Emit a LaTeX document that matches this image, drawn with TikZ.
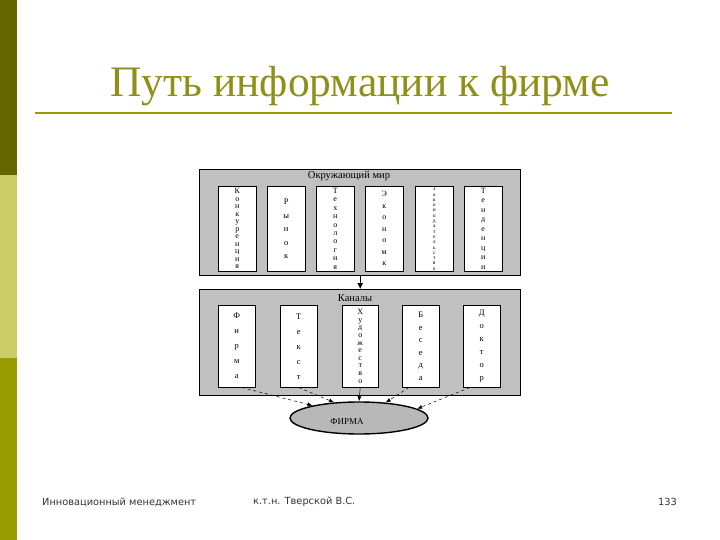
\documentclass[tikz,border=0pt]{standalone}
\usepackage{fontspec}
\setmainfont{Liberation Serif}
\newfontfamily\footfont{DejaVu Sans}
\usetikzlibrary{arrows.meta,shapes.geometric}
\definecolor{barA}{HTML}{666600}
\definecolor{barB}{HTML}{CCCC66}
\definecolor{barC}{HTML}{999900}
\definecolor{titlecol}{HTML}{8F8F1A}
\definecolor{panelgray}{HTML}{C0C0C0}
\definecolor{ellgray}{HTML}{B8B8B8}
\definecolor{foot}{HTML}{333333}
\begin{document}
\begin{tikzpicture}[x=1pt,y=-1pt,
  panel/.style={draw=black, line width=1.4pt, fill=panelgray, inner sep=0pt, anchor=north west},
  colbox/.style={draw=black, line width=0.5pt, fill=white, inner sep=0pt, anchor=north west, align=center},
  ptitle/.style={font=\fontsize{10.5}{11}\selectfont, inner sep=0pt},
  flow/.style={dashed, line width=0.5pt, -{Latex[length=5pt,width=4pt]}},
  footer/.style={font=\footfont\fontsize{9.8}{11}\selectfont, text=foot, inner sep=0pt}]
\fill[white] (0,0) rectangle (720,540);
\useasboundingbox (0,0) rectangle (720,540);
% left bar
\fill[barA] (0,0) rectangle (17,175);
\fill[barB] (0,175) rectangle (17,358);
\fill[barC] (0,358) rectangle (17,540);
% title
\node[text=titlecol, font=\fontsize{43.5}{46}\selectfont, inner sep=0pt] (title) at (360,86) {Путь информации к фирме};
\draw[barC, line width=2.5pt] (35,113) -- (672,113);
% panel 1
\node[panel, minimum width=321pt, minimum height=106pt] (p1) at (199,169) {};
\node[ptitle] (t1) at (349,176) {Окружающий мир};
\node[colbox, minimum width=38pt, minimum height=85pt, font=\fontsize{8}{7.5}\selectfont] (a1) at (218,186) {К\\о\\н\\к\\у\\р\\е\\н\\ц\\и\\я};
\node[colbox, minimum width=38pt, minimum height=85pt, font=\fontsize{8.5}{13.5}\selectfont] (a2) at (267,186) {Р\\ы\\н\\о\\к};
\node[colbox, minimum width=38pt, minimum height=85pt, font=\fontsize{8}{8.4}\selectfont] (a3) at (316,186) {Т\\е\\х\\н\\о\\л\\о\\г\\и\\я};
\node[colbox, minimum width=38pt, minimum height=85pt, font=\fontsize{8}{11.5}\selectfont] (a4) at (365,186) {Э\\к\\о\\н\\о\\м\\к};
\node[colbox, minimum width=38pt, minimum height=85pt, font=\fontsize{5.5}{5.3}\selectfont] (a5) at (415,186) {З\\а\\к\\о\\н\\о\\д\\а\\т\\е\\л\\ь\\с\\т\\в\\о};
\node[colbox, minimum width=38pt, minimum height=85pt, font=\fontsize{8}{9.5}\selectfont] (a6) at (464,186) {Т\\е\\н\\д\\е\\н\\ц\\и\\и};
% panel 2
\node[panel, minimum width=321pt, minimum height=106pt] (p2) at (199,289) {};
\node[ptitle] (t2) at (355,298) {Каналы};
\node[colbox, minimum width=37pt, minimum height=82pt, font=\fontsize{8.5}{15}\selectfont] (b1) at (218,305) {Ф\\и\\р\\м\\а};
\node[colbox, minimum width=37pt, minimum height=82pt, font=\fontsize{8.5}{15}\selectfont] (b2) at (280,305) {Т\\е\\к\\с\\т};
\node[colbox, minimum width=36pt, minimum height=82pt, font=\fontsize{8}{7.6}\selectfont] (b3) at (342,305) {Х\\у\\д\\о\\ж\\е\\с\\т\\в\\о};
\node[colbox, minimum width=37pt, minimum height=82pt, font=\fontsize{8.5}{12.5}\selectfont] (b4) at (402,305) {Б\\е\\с\\е\\д\\а};
\node[colbox, minimum width=37pt, minimum height=82pt, font=\fontsize{8.5}{13}\selectfont] (b5) at (463,305) {Д\\о\\к\\т\\о\\р};
% link between panels
\draw[line width=0.8pt, -{Latex[length=6pt,width=6pt]}] (p1.south) -- (p2.north);
% firm
\node[ellipse, draw=black, line width=1.4pt, fill=ellgray, minimum width=138pt, minimum height=32pt, inner sep=0pt] (firm) at (359,418) {};
\node[font=\fontsize{9}{10}\selectfont, inner sep=0pt] (firmtext) at (347,422) {ФИРМА};
\draw[flow] ([xshift=5pt]b1.south) -- (firm.165);
\draw[flow] (b2.south) -- (firm.148);
\draw[line width=0.5pt, -{Latex[length=5pt,width=4pt]}] (b3.south) -- (firm.north);
\draw[flow] ([xshift=-12pt]b4.south) -- (firm.30);
\draw[flow] ([xshift=-12pt]b5.south) -- (firm.9);
% footer
\node[footer, anchor=west] (f1) at (42,502) {Инновационный менеджмент};
\node[footer, anchor=west] (f2) at (253,502) {к.т.н. Тверской В.С.};
\node[footer, anchor=east] (f3) at (677,502) {133};
\end{tikzpicture}
\end{document}
